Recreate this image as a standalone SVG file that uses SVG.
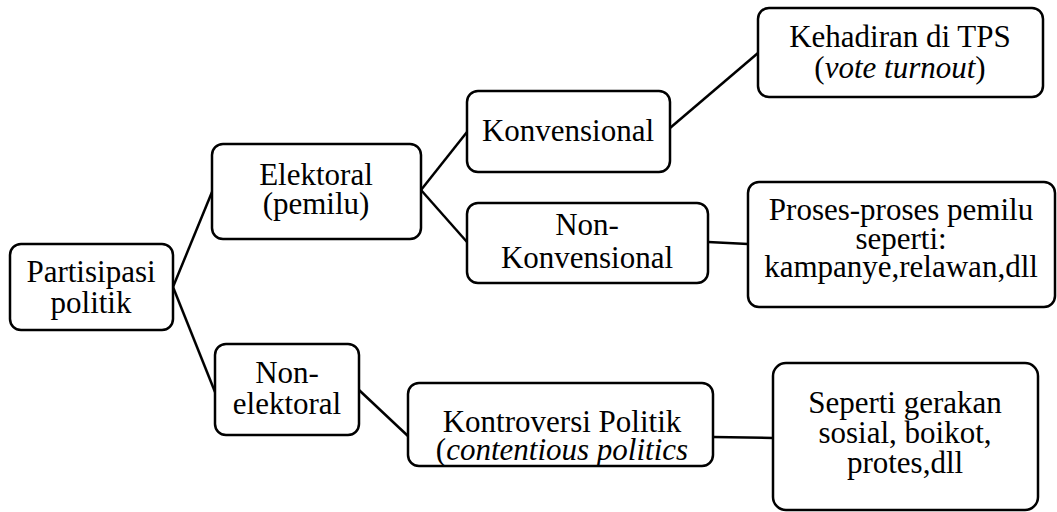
<svg xmlns="http://www.w3.org/2000/svg" width="1057" height="512" viewBox="0 0 1057 512">
<style>
.box{fill:#fff;stroke:#000;stroke-width:2.5}
.c{stroke:#000;stroke-width:2.5;fill:none}
</style>
<rect width="1057" height="512" fill="#fff"/>
<g id="connectors">
<line class="c" x1="173" y1="287" x2="212" y2="192"/>
<line class="c" x1="173" y1="287" x2="215" y2="392"/>
<line class="c" x1="421" y1="190" x2="467" y2="132"/>
<line class="c" x1="421" y1="190" x2="467" y2="242"/>
<line class="c" x1="670" y1="128" x2="758" y2="53"/>
<line class="c" x1="708" y1="242" x2="748" y2="244"/>
<line class="c" x1="359" y1="390" x2="409" y2="437"/>
<line class="c" x1="713" y1="437" x2="773" y2="438"/>
</g>
<g id="partisipasi">
<rect class="box" x="10" y="244" width="163" height="86" rx="11"/>
<text x="91" y="282" font-family="Times New Roman" font-size="31" text-anchor="middle">Partisipasi</text>
<text x="91" y="313" font-family="Times New Roman" font-size="31" text-anchor="middle">politik</text>
</g>
<g id="elektoral">
<rect class="box" x="212" y="144" width="209" height="95" rx="11"/>
<text x="316" y="185" font-family="Times New Roman" font-size="31" text-anchor="middle">Elektoral</text>
<text x="316" y="214" font-family="Times New Roman" font-size="31" text-anchor="middle">(pemilu)</text>
</g>
<g id="konvensional">
<rect class="box" x="467" y="91" width="203" height="81" rx="11"/>
<text x="568" y="141" font-family="Times New Roman" font-size="31" text-anchor="middle">Konvensional</text>
</g>
<g id="nonkonvensional">
<rect class="box" x="467" y="203" width="241" height="80" rx="11"/>
<text x="587" y="235" font-family="Times New Roman" font-size="31" text-anchor="middle">Non-</text>
<text x="587" y="268" font-family="Times New Roman" font-size="31" text-anchor="middle">Konvensional</text>
</g>
<g id="kehadiran">
<rect class="box" x="758" y="8" width="285" height="89" rx="11"/>
<text x="900" y="47" font-family="Times New Roman" font-size="31" text-anchor="middle">Kehadiran di TPS</text>
<text x="900" y="78" font-family="Times New Roman" font-size="31" text-anchor="middle">(<tspan font-style="italic">vote turnout</tspan>)</text>
</g>
<g id="proses">
<rect class="box" x="748" y="182" width="307" height="125" rx="11"/>
<text x="901" y="220" font-family="Times New Roman" font-size="31" text-anchor="middle">Proses-proses pemilu</text>
<text x="901" y="249" font-family="Times New Roman" font-size="31" text-anchor="middle">seperti:</text>
<text x="901" y="277" font-family="Times New Roman" font-size="31" text-anchor="middle">kampanye,relawan,dll</text>
</g>
<g id="nonelektoral">
<rect class="box" x="215" y="344" width="144" height="91" rx="11"/>
<text x="287" y="383" font-family="Times New Roman" font-size="31" text-anchor="middle">Non-</text>
<text x="287" y="414" font-family="Times New Roman" font-size="31" text-anchor="middle">elektoral</text>
</g>
<g id="kontroversi">
<rect class="box" x="408" y="383" width="305" height="83" rx="11"/>
<text x="562" y="432" font-family="Times New Roman" font-size="31" text-anchor="middle">Kontroversi Politik</text>
<text x="562" y="460" font-family="Times New Roman" font-size="31" text-anchor="middle">(<tspan font-style="italic">contentious politics</tspan></text>
</g>
<g id="seperti">
<rect class="box" x="773" y="363" width="265" height="147" rx="13"/>
<text x="905" y="413" font-family="Times New Roman" font-size="31" text-anchor="middle">Seperti gerakan</text>
<text x="905" y="443" font-family="Times New Roman" font-size="31" text-anchor="middle">sosial, boikot,</text>
<text x="905" y="473" font-family="Times New Roman" font-size="31" text-anchor="middle">protes,dll</text>
</g>
</svg>
